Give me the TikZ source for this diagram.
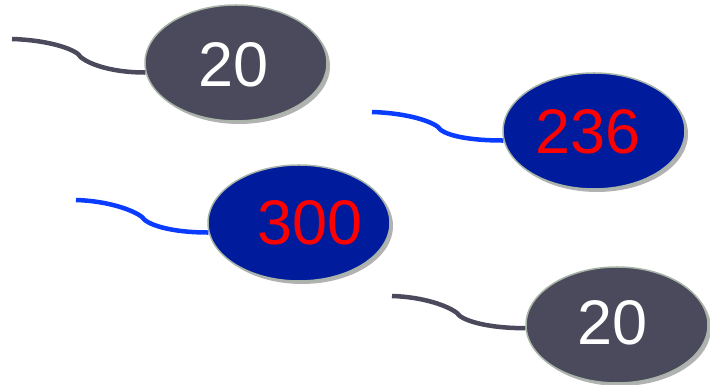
\documentclass[tikz,border=0pt]{standalone}
\usepackage{fontspec}
\setmainfont{Liberation Sans}
\usetikzlibrary{shapes.geometric,shadows}
\definecolor{slate}{HTML}{4B4A5C}
\definecolor{navy}{HTML}{001C9C}
\definecolor{tailblue}{HTML}{0A3CFF}
\definecolor{rimc}{HTML}{A8B4A8}
\begin{document}
\begin{tikzpicture}[x=1pt,y=1pt,
  blob/.style={ellipse, minimum width=182pt, minimum height=116pt, inner sep=0pt,
    draw=rimc, line width=1.5pt,
    drop shadow={shadow xshift=3pt, shadow yshift=-3pt, opacity=0.3, fill=black}},
  grayblob/.style={blob, fill=slate},
  blueblob/.style={blob, fill=navy},
  num/.style={inner sep=0pt, font=\fontsize{63}{63}\selectfont},
  tail/.style={line width=4.5pt},
]
\useasboundingbox (0,0) rectangle (710,385);
% ellipses
\node[grayblob] (e1) at (236,322) {};
\node[blueblob] (e2) at (594,254) {};
\node[blueblob] (e3) at (299,162) {};
\node[grayblob] (e4) at (617,60) {};
% labels
\node[num, text=white] (l1) at (234,320) {20};
\node[num, text=red] (l2) at (588,253) {236};
\node[num, text=red] (l3) at (310,162) {300};
\node[num, text=white] (l4) at (613,62) {20};
% tail starts and bends
\coordinate (t1) at (12,346);
\coordinate (b1) at (78,331);
\coordinate (t2) at (372,273);
\coordinate (b2) at (438,258);
\coordinate (t3) at (76,185);
\coordinate (b3) at (142,168);
\coordinate (t4) at (392,89);
\coordinate (b4) at (457,72);
% tails
\draw[tail, slate] (t1) .. controls +(32,-1) and +(-9,7) .. (b1)
   .. controls +(4,-7) and +(-40,0) .. (e1.186);
\draw[tail, tailblue] (t2) .. controls +(32,-1) and +(-9,7) .. (b2)
   .. controls +(4,-7) and +(-40,0) .. (e2.186);
\draw[tail, tailblue] (t3) .. controls +(32,-1) and +(-9,7) .. (b3)
   .. controls +(4,-7) and +(-40,0) .. (e3.186);
\draw[tail, slate] (t4) .. controls +(32,-1) and +(-9,7) .. (b4)
   .. controls +(4,-7) and +(-40,0) .. (e4.182);
\end{tikzpicture}
\end{document}
